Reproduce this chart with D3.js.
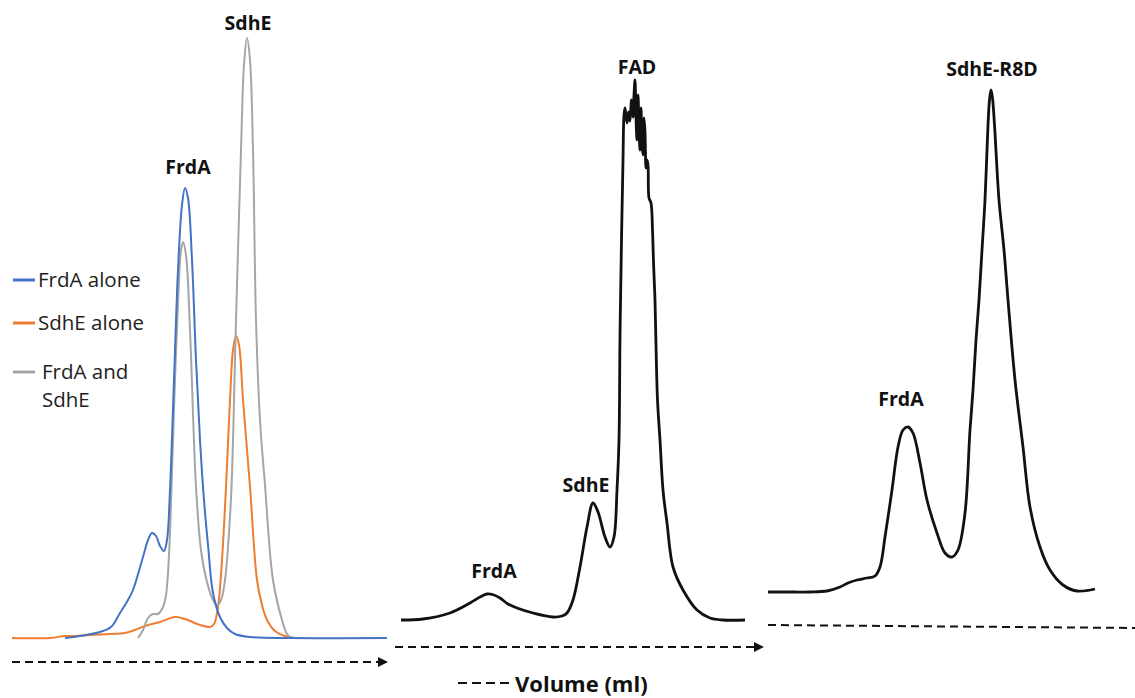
<!DOCTYPE html>
<html>
<head>
<meta charset="utf-8">
<script src="https://cdn.jsdelivr.net/npm/d3@7"></script>
<style>
  body { margin: 0; background: #fff; }
  text { font-family: "Open Sans", sans-serif; fill: #111; }
  .peak { font-weight: bold; font-size: 19.5px; }
  .legend { font-size: 20.5px; fill: #222; }
</style>
</head>
<body>
<div id="chart"></div>
<script>
// Size of the whole figure
const width = 1135;
const height = 698;

// Panel 1: elution profiles, [volume (ml), absorbance]
const frdaAlone = [
  [5.3, 0], [6.8, 1], [8.8, 3], [9.9, 5.5], [10.8, 12.5], [11.6, 19], [12.1, 24],
  [13.1, 40.5], [13.6, 49], [14.0, 52.5], [14.4, 51], [14.8, 46], [15.2, 43.5],
  [15.5, 49], [15.8, 74], [16.2, 129], [16.6, 184], [17.0, 216.5], [17.3, 225],
  [17.6, 220], [18.0, 189], [18.4, 139], [18.8, 99], [19.2, 69], [19.6, 46.5],
  [20.1, 22.5], [20.8, 10.5], [21.5, 5], [22.3, 2], [23.8, 0.5], [27.8, 0], [37.5, 0]
];

const sdheAlone = [
  [0, 0], [3.8, 0], [5.3, 1], [6.3, 1], [7.8, 1.5], [9.8, 2], [11.3, 2.5], [12.3, 4],
  [13.3, 6], [14.8, 8], [16.3, 10.5], [17.3, 9.5], [18.8, 6.5], [19.8, 5.5], [20.2, 7],
  [20.6, 15.5], [21.0, 39], [21.4, 75.5], [21.8, 119], [22.1, 144], [22.4, 151],
  [22.7, 146.5], [23.1, 119], [23.8, 75.5], [24.5, 29], [25.0, 16.5], [25.5, 9],
  [26.3, 3.5], [27.3, 1], [28.3, 0]
];

const frdaAndSdhe = [
  [12.6, 0], [13.1, 4], [13.6, 10], [14.1, 12], [14.6, 12], [15.1, 15.5], [15.4, 21.5],
  [15.7, 41.5], [15.95, 75.5], [16.3, 129], [16.7, 179], [16.9, 194], [17.1, 198],
  [17.4, 191.5], [17.8, 154], [18.4, 75.5], [18.9, 44], [19.5, 28], [20.1, 19],
  [20.5, 16.5], [20.9, 19], [21.3, 29], [21.6, 45.5], [21.95, 75.5], [22.4, 159],
  [22.9, 244], [23.2, 286.5], [23.5, 300], [23.8, 289], [24.1, 244], [24.4, 159],
  [24.8, 109], [25.3, 76.5], [26.1, 29], [27.0, 9], [27.5, 2], [27.9, 0]
];

// Panel 2: FrdA + SdhE + FAD
const fadRun = [
  [0, 0], [2.2, 0.5], [4.9, 3.5], [6.9, 8.5], [7.9, 11.5], [8.6, 13], [9.3, 12.5],
  [9.9, 11], [10.7, 8], [11.6, 6], [13.2, 3.5], [15.2, 1.5], [16.1, 2], [16.6, 3.5],
  [17.2, 10], [17.9, 26.5], [18.6, 46.5], [19.2, 58.5], [19.7, 54], [20.4, 41.5],
  [20.9, 36.5], [21.3, 41.5], [21.6, 65], [21.8, 90], [21.9, 141.5], [22.05, 190],
  [22.2, 230], [22.3, 252.5], [22.4, 256], [22.6, 248.5], [22.75, 254], [22.9, 249.5],
  [23.05, 260], [23.2, 251.5], [23.3, 262.5], [23.4, 270], [23.5, 251], [23.6, 240],
  [23.7, 262.5], [23.8, 246], [23.9, 235], [24.0, 256], [24.1, 237.5], [24.2, 232.5],
  [24.3, 251], [24.4, 244], [24.5, 226], [24.6, 230], [24.7, 227.5], [24.8, 211],
  [25.0, 208.5], [25.15, 195], [25.25, 179], [25.4, 160], [25.5, 137.5], [25.65, 110],
  [25.9, 90], [26.2, 65], [26.6, 48.5], [27.2, 26.5], [28.2, 15], [29.6, 5],
  [30.9, 1], [32.2, 0], [34.4, 0]
];

// Panel 3: FrdA + SdhE-R8D
const r8dRun = [
  [0, 0], [2.5, 0], [4.2, 0], [5.9, 0.5], [7.2, 2.5], [8.0, 4.5], [8.9, 6], [9.9, 7],
  [10.7, 8], [11.2, 12.5], [11.7, 27.5], [12.4, 51], [13.0, 72.5], [13.5, 81],
  [14.0, 82.5], [14.5, 79.5], [15.2, 64.5], [15.9, 46], [16.9, 29.5], [17.7, 19.5],
  [18.4, 17.5], [19.0, 21], [19.7, 39.5], [20.2, 81], [20.5, 101], [20.8, 126],
  [21.1, 146], [21.4, 171], [21.7, 196], [22.0, 233.5], [22.15, 246], [22.3, 251],
  [22.45, 247], [22.65, 233.5], [23.1, 196], [23.6, 171], [24.0, 146], [24.7, 106],
  [25.5, 72.5], [26.2, 42.5], [27.2, 22.5], [28.2, 11], [29.5, 3.5], [30.9, 0.5],
  [32.7, 1.5]
];

// Peak labels: [volume, absorbance above which the label sits, text]
const panel1Labels = [[17.6, 232, "FrdA"], [23.6, 304, "SdhE"]];
const panel2Labels = [[9.3, 21, "FrdA"], [18.5, 64, "SdhE"], [23.6, 273, "FAD"]];
const panel3Labels = [[13.3, 93, "FrdA"], [22.4, 258, "SdhE-R8D"]];

const legendNames = ["FrdA alone", "SdhE alone", "FrdA and|SdhE"];
const legendColors = ["#4472C4", "#ED7D31", "#A5A5A5"];

const svg = d3.select("#chart")
    .append("svg")
    .attr("width", width)
    .attr("height", height);

svg.append("defs").append("marker")
    .attr("id", "arrow")
    .attr("viewBox", "0 0 10 10")
    .attr("refX", 2)
    .attr("refY", 5)
    .attr("markerWidth", 5)
    .attr("markerHeight", 5)
    .attr("markerUnits", "strokeWidth")
    .attr("orient", "auto")
  .append("path")
    .attr("d", "M0,0L10,5L0,10Z")
    .attr("fill", "#111");

// scales for each panel
const x1 = d3.scaleLinear().domain([0, 37.5]).range([12, 387]);
const y1 = d3.scaleLinear().domain([0, 300]).range([638, 38]);
const x2 = d3.scaleLinear().domain([0, 34.4]).range([401, 745]);
const y2 = d3.scaleLinear().domain([0, 270]).range([620, 80]);
const x3 = d3.scaleLinear().domain([0, 32.7]).range([768, 1095]);
const y3 = d3.scaleLinear().domain([0, 251]).range([592, 90]);

function drawTrace(data, x, y, color, w) {
    const line = d3.line()
        .x(function(d) { return x(d[0]); })
        .y(function(d) { return y(d[1]); })
        .curve(d3.curveCatmullRom.alpha(0.5));
    svg.append("path")
        .datum(data)
        .attr("d", line)
        .attr("fill", "none")
        .attr("stroke", color)
        .attr("stroke-width", w)
        .attr("stroke-linejoin", "round");
}

function drawLabels(labels, x, y) {
    svg.append("g")
       .selectAll("text")
       .data(labels)
       .join("text")
        .attr("class", "peak")
        .attr("text-anchor", "middle")
        .attr("x", function(d) { return x(d[0]); })
        .attr("y", function(d) { return y(d[1]); })
        .text(function(d) { return d[2]; });
}

// panel 1 (orange below, then gray, blue on top like the original)
drawTrace(sdheAlone, x1, y1, legendColors[1], 2);
drawTrace(frdaAndSdhe, x1, y1, legendColors[2], 2);
drawTrace(frdaAlone, x1, y1, legendColors[0], 2);
drawLabels(panel1Labels, x1, y1);

// panel 2 and 3
drawTrace(fadRun, x2, y2, "#111", 2.8);
drawLabels(panel2Labels, x2, y2);
drawTrace(r8dRun, x3, y3, "#111", 2.8);
drawLabels(panel3Labels, x3, y3);

// legend of panel 1
const legend = svg.append("g")
    .selectAll("g")
    .data(legendNames)
    .join("g")
    .attr("transform", function(d, i) { return "translate(13," + [280, 323, 372][i] + ")"; });

legend.append("line")
    .attr("x1", 0).attr("x2", 22)
    .attr("stroke", function(d, i) { return legendColors[i]; })
    .attr("stroke-width", 3);

legend.append("text")
    .attr("class", "legend")
    .attr("x", function(d, i) { return i === 2 ? 29 : 25; })
    .attr("y", 7)
    .selectAll("tspan")
    .data(function(d) { return d.split("|"); })
    .join("tspan")
    .attr("x", function(d, i, nodes) { return d3.select(nodes[i].parentNode).attr("x"); })
    .attr("dy", function(d, i) { return i === 0 ? 0 : 28; })
    .text(function(d) { return d; });

// dashed volume arrows under each panel
const arrows = [[12, 662, 380, 662, true], [395, 647, 756, 647, true], [768, 625, 1135, 628, false]];
svg.append("g")
   .selectAll("line")
   .data(arrows)
   .join("line")
    .attr("x1", function(d) { return d[0]; })
    .attr("y1", function(d) { return d[1]; })
    .attr("x2", function(d) { return d[2]; })
    .attr("y2", function(d) { return d[3]; })
    .attr("stroke", "#111")
    .attr("stroke-width", 2)
    .attr("stroke-dasharray", "8,5")
    .attr("marker-end", function(d) { return d[4] ? "url(#arrow)" : null; });

// axis caption
svg.append("line")
    .attr("x1", 458).attr("x2", 510)
    .attr("y1", 683).attr("y2", 683)
    .attr("stroke", "#111")
    .attr("stroke-width", 2)
    .attr("stroke-dasharray", "9,5");

svg.append("text")
    .attr("x", 515)
    .attr("y", 692)
    .style("font-weight", "bold")
    .style("font-size", "22px")
    .text("Volume (ml)");
</script>
</body>
</html>
